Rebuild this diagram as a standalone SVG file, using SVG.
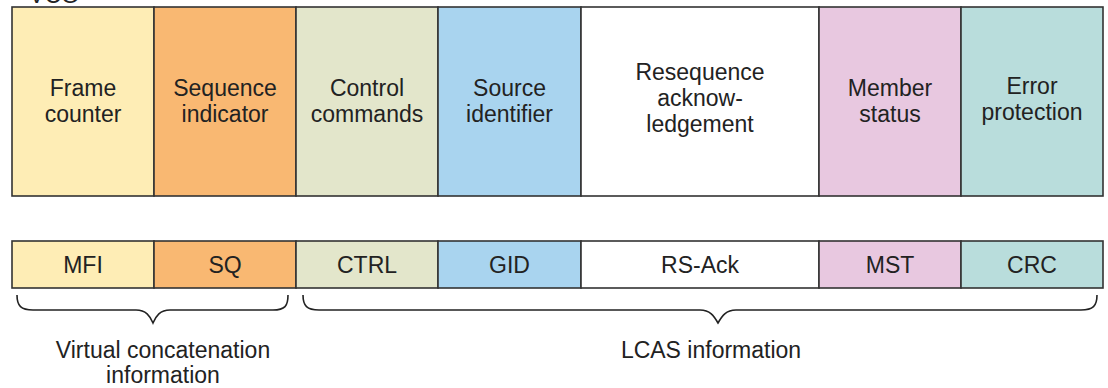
<svg xmlns="http://www.w3.org/2000/svg" width="1108" height="388" viewBox="0 0 1108 388">
<style>
.box{stroke:#333;stroke-width:1.6}
.t{font-family:"Liberation Sans",Arial,sans-serif;font-size:23px;fill:#222;text-anchor:middle}
.brace{fill:none;stroke:#222;stroke-width:1.6}
</style>
<rect width="1108" height="388" fill="#fff"/>
<text class="t" x="54" y="3">VCG</text>
<g id="top">
<g id="frame-counter"><rect class="box" x="12" y="7" width="142" height="189" fill="#FEEDB5"/><text class="t" x="83" y="96">Frame</text><text class="t" x="83" y="122">counter</text></g>
<g id="sequence-indicator"><rect class="box" x="154" y="7" width="142" height="189" fill="#F9B872"/><text class="t" x="225" y="96">Sequence</text><text class="t" x="225" y="122">indicator</text></g>
<g id="control-commands"><rect class="box" x="296" y="7" width="142" height="189" fill="#E3E6CB"/><text class="t" x="367" y="96">Control</text><text class="t" x="367" y="122">commands</text></g>
<g id="source-identifier"><rect class="box" x="438" y="7" width="143" height="189" fill="#A9D4EF"/><text class="t" x="509.5" y="96">Source</text><text class="t" x="509.5" y="122">identifier</text></g>
<g id="resequence"><rect class="box" x="581" y="7" width="238" height="189" fill="#FFFFFF"/><text class="t" x="700" y="80">Resequence</text><text class="t" x="700" y="106">acknow-</text><text class="t" x="700" y="132">ledgement</text></g>
<g id="member-status"><rect class="box" x="819" y="7" width="142" height="189" fill="#E8C8E0"/><text class="t" x="890" y="96">Member</text><text class="t" x="890" y="122">status</text></g>
<g id="error-protection"><rect class="box" x="961" y="7" width="142" height="189" fill="#B9DDDC"/><text class="t" x="1032" y="94">Error</text><text class="t" x="1032" y="120">protection</text></g>
</g>
<g id="bottom">
<g id="mfi"><rect class="box" x="12" y="241" width="142" height="47" fill="#FEEDB5"/><text class="t" x="83" y="273">MFI</text></g>
<g id="sq"><rect class="box" x="154" y="241" width="142" height="47" fill="#F9B872"/><text class="t" x="225" y="273">SQ</text></g>
<g id="ctrl"><rect class="box" x="296" y="241" width="142" height="47" fill="#E3E6CB"/><text class="t" x="367" y="273">CTRL</text></g>
<g id="gid"><rect class="box" x="438" y="241" width="143" height="47" fill="#A9D4EF"/><text class="t" x="509.5" y="273">GID</text></g>
<g id="rs-ack"><rect class="box" x="581" y="241" width="238" height="47" fill="#FFFFFF"/><text class="t" x="700" y="273">RS-Ack</text></g>
<g id="mst"><rect class="box" x="819" y="241" width="142" height="47" fill="#E8C8E0"/><text class="t" x="890" y="273">MST</text></g>
<g id="crc"><rect class="box" x="961" y="241" width="142" height="47" fill="#B9DDDC"/><text class="t" x="1032" y="273">CRC</text></g>
</g>
<g id="connectors">
<path class="brace" d="M17,295 C17,306 21,310 33,310 L136,310 C146,310 150,316 153,323 C156,316 160,310 170,310 L273,310 C285,310 288,306 288,295"/>
<path class="brace" d="M303,295 C303,306 307,310 319,310 L700,310 C710,310 714,316 718,323 C722,316 726,310 736,310 L1081,310 C1093,310 1097,306 1097,295"/>
</g>
<g id="labels">
<text class="t" x="163" y="358">Virtual concatenation</text>
<text class="t" x="163" y="383">information</text>
<text class="t" x="711" y="358">LCAS information</text>
</g>
</svg>
